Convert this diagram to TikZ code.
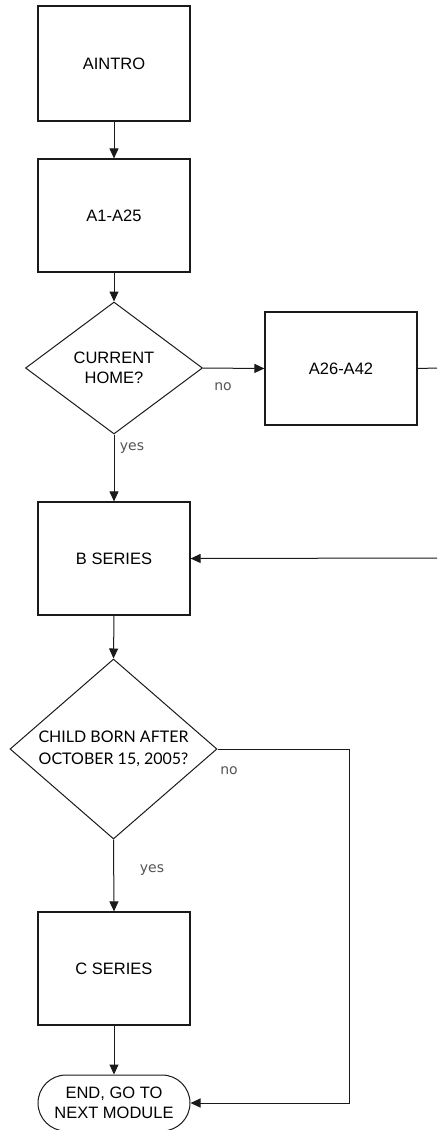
\documentclass[tikz,border=0pt]{standalone}
\usepackage{fontspec}
\setmainfont{Liberation Sans}
\newfontfamily\latofont{Lato}
\newfontfamily\labfont{DejaVu Sans}
\usetikzlibrary{shapes.geometric,arrows.meta}
\definecolor{linec}{HTML}{1A1A1A}
\definecolor{labc}{HTML}{555555}
\tikzset{
  boxnode/.style={draw=linec, line width=1.2pt, rectangle, minimum width=152pt, minimum height=113pt, inner sep=0pt, align=center, font=\fontsize{16.5}{20}\selectfont},
  decnode/.style={draw=linec, line width=1pt, diamond, inner sep=0pt, align=center, font=\fontsize{16.5}{20}\selectfont},
  endnode/.style={draw=linec, line width=1pt, rectangle, rounded corners=28pt, minimum width=152pt, minimum height=56pt, inner sep=0pt, align=center, font=\fontsize{16.5}{19.7}\selectfont},
  flow/.style={draw=linec, line width=1pt, -{Triangle[length=10pt,width=9pt]}},
  plainflow/.style={draw=linec, line width=1pt},
  lab/.style={text=labc, inner sep=0pt, font=\labfont\fontsize{14}{16}\selectfont}
}
\begin{document}
\begin{tikzpicture}[x=1pt,y=-1pt]
\useasboundingbox (0,0) rectangle (437,1130);
\fill[white] (0,0) rectangle (437,1130);
\node[boxnode, minimum height=115pt] (aintro) at (114,63.5) {AINTRO};
\node[boxnode] (a125) at (114,215.5) {A1-A25};
\node[decnode, minimum width=177pt, minimum height=132pt, aspect=1.34] (home) at (114,368) {CURRENT\\HOME?};
\node[boxnode] (a2642) at (341,368.5) {A26-A42};
\node[boxnode] (bser) at (114,558.5) {B SERIES};
\node[decnode, minimum width=207pt, minimum height=180pt, aspect=1.15, font=\latofont\fontsize{16}{22}\selectfont] (child) at (113.5,749) {CHILD BORN AFTER\\OCTOBER 15, 2005?};
\node[boxnode] (cser) at (114,968.5) {C SERIES};
\node[endnode] (end) at (114,1103) {END, GO TO\\NEXT MODULE};
\coordinate (aout) at (437,368);
\coordinate (bin) at (437,558);
\coordinate (turn1) at (349,749);
\coordinate (turn2) at (349,1103);
\draw[flow] (aintro.south) -- (a125.north);
\draw[flow] (a125.south) -- (home.north);
\draw[flow] (home.east) -- (a2642.west);
\draw[plainflow] (a2642.east) -- (aout);
\draw[flow] (bin) -- (bser.east);
\draw[flow] (home.south) -- (bser.north);
\draw[flow] (bser.south) -- (child.north);
\draw[flow] (child.south) -- (cser.north);
\draw[flow] (cser.south) -- (end.north);
\draw[flow] (child.east) -- (turn1) -- (turn2) -- (end.east);
\node[lab] (nohome) at (223,387) {no};
\node[lab] (yeshome) at (132,448) {yes};
\node[lab] (nochild) at (229,771) {no};
\node[lab] (yeschild) at (152,870) {yes};
\end{tikzpicture}
\end{document}
